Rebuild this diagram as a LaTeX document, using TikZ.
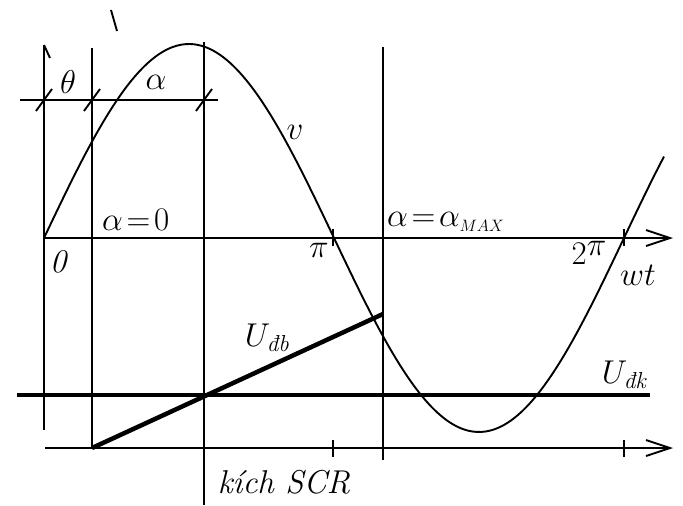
\RequirePackage{fix-cm}
\documentclass[tikz,border=0pt]{standalone}
\usepackage{amsmath}
\usepackage{fontspec}
\usetikzlibrary{arrows.meta}
\begin{document}
\begin{tikzpicture}[
    x=1pt, y=-1pt,
    every node/.style={font=\fontsize{33}{38}\selectfont, inner sep=0pt},
    thinline/.style={line width=1.9pt},
    thickline/.style={line width=4.5pt},
    axis/.style={line width=1.9pt, -{Straight Barb[length=24pt,width=16pt]}},
    dimtick/.style={line width=1.9pt}
]
\useasboundingbox (0,0) rectangle (683,506);

% Axes
\coordinate (o) at (44,238);
\coordinate (xend) at (673,238);
\coordinate (b0) at (45,448);
\coordinate (bend) at (673,448);
\draw[axis] (o) -- (xend);
\draw[axis] (b0) -- (bend);

% Vertical lines
\draw[thinline] (44,45) -- (44,430);
\draw[thinline] (44,45) -- (50,58);
\draw[thinline] (92,48) -- (92,448);
\draw[thinline] (204,42) -- (204,505);
\draw[thinline] (383,47) -- (383,460);
\draw[thinline] (111,10) -- (117,31);

% Dimension line theta / alpha
\draw[thinline] (20,100) -- (218,100);
\foreach \xx in {44,92,204}
    \draw[dimtick] (\xx-8,111) -- (\xx+8,89);

% Ticks at pi and 2pi
\foreach \xx in {333,624} {
    \draw[dimtick] (\xx,229) -- (\xx,246);
    \draw[dimtick] (\xx,440) -- (\xx,457);
}

% Source voltage
\draw[thinline] plot[domain=44:664, samples=150, smooth]
    (\x, {238-194*sin((\x-44)/580*360)});

% Control voltages
\draw[thickline] (17,395) -- (650,395);
\draw[thickline] (92,448) -- (383,314);

% Labels
\node (theta) at (68,82) {$\theta$};
\node (alpha) at (156,82) {$\alpha$};
\node (vlabel) at (295,132) {$v$};
\node[anchor=west] (azero) at (102,220) {$\alpha\!=\!0$};
\node (zero) at (58,262) {\itshape 0};
\node (pi) at (319,250) {$\pi$};
\node[anchor=west] (amax) at (387,222) {$\alpha\!=\!\alpha_{\scriptscriptstyle MAX}$};
\node (twopi) at (589,253) {$2$\raisebox{0.25em}{$\pi$}};
\node (wt) at (638,275) {$wt$};
\node (udb) at (267,338) {$U_{\text{\itshape đb}}$};
\node (udk) at (624,375) {$U_{\text{\itshape đk}}$};
\node (kich) at (284,482) {\itshape kích SCR};

\end{tikzpicture}
\end{document}
